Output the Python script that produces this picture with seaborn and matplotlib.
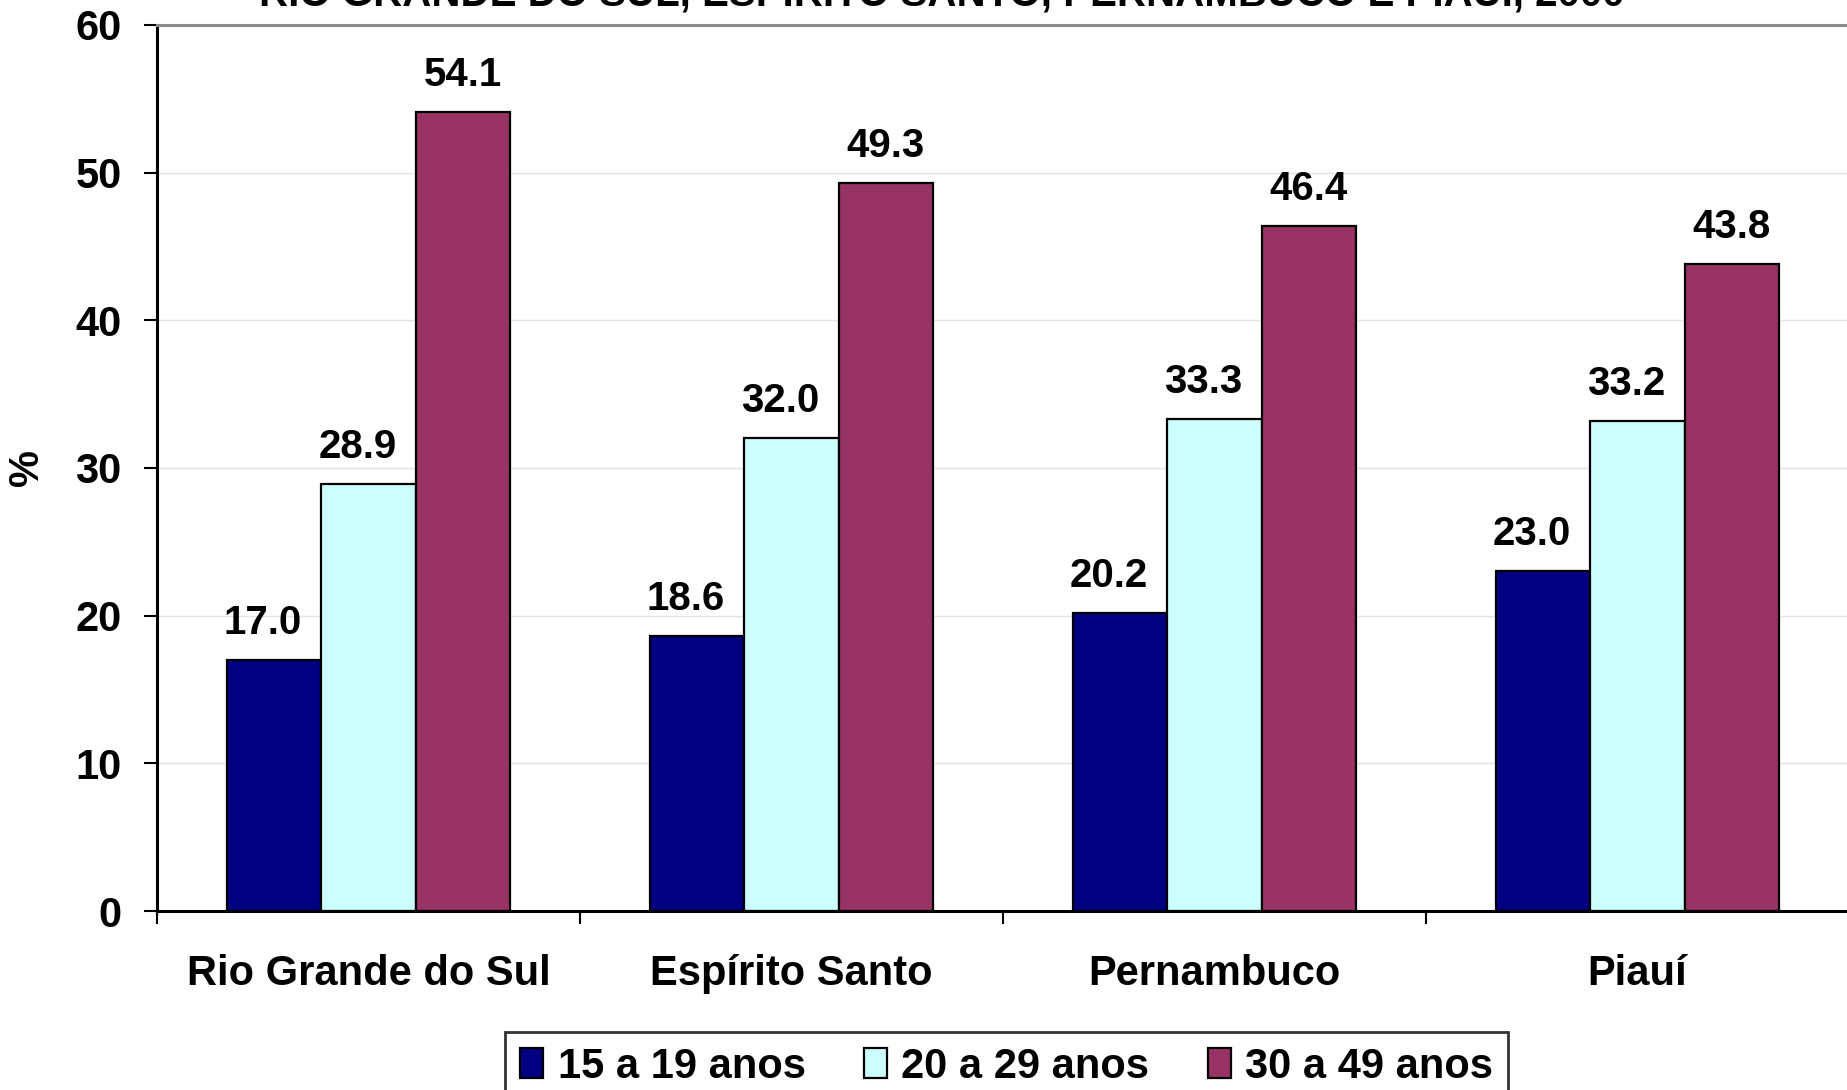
import pandas as pd
import numpy as np
import matplotlib
matplotlib.use("Agg")
import matplotlib.pyplot as plt
import seaborn as sns

# dados do gráfico
estados = ["Rio Grande do Sul", "Espírito Santo", "Pernambuco", "Piauí"]
faixas = ["15 a 19 anos", "20 a 29 anos", "30 a 49 anos"]
v_15_19 = [17.0, 18.6, 20.2, 23.0]
v_20_29 = [28.9, 32.0, 33.3, 33.2]
v_30_49 = [54.1, 49.3, 46.4, 43.8]
cores = ["#000080", "#CCFFFF", "#993366"]
titulo = "RIO GRANDE DO SUL, ESPÍRITO SANTO, PERNAMBUCO E PIAUÍ, 2000"

df = pd.DataFrame({
    "estado": estados * 3,
    "faixa": [faixas[0]] * 4 + [faixas[1]] * 4 + [faixas[2]] * 4,
    "valor": v_15_19 + v_20_29 + v_30_49,
})

sns.set_theme(style="white")
plt.rcParams["font.family"] = ["Liberation Sans", "DejaVu Sans"]
plt.rcParams["font.weight"] = "bold"
plt.rcParams["text.color"] = "black"
plt.rcParams["xtick.color"] = "black"
plt.rcParams["ytick.color"] = "black"
plt.rcParams["axes.labelcolor"] = "black"

FS = 30

fig = plt.figure(figsize=(18.47, 10.9), dpi=100)
ax = fig.add_axes([0.085, 0.1642, 0.916, 0.813])

sns.barplot(data=df, x="estado", y="valor", hue="faixa", order=estados,
            hue_order=faixas, palette=cores, width=0.67, gap=0,
            edgecolor="black", linewidth=1.6, saturation=1, ax=ax)

# rótulos dos valores
offsets = [-8, -8, 0]
for cont, dx in zip(ax.containers, offsets):
    for bar in cont:
        h = bar.get_height()
        ax.annotate(f"{h:.1f}", (bar.get_x() + bar.get_width() / 2, h),
                    xytext=(dx, 13), textcoords="offset points",
                    ha="center", va="bottom", fontsize=FS - 1,
                    fontweight="bold", color="black")

ax.set_xlim(-0.5, 3.5)
ax.set_ylim(0, 60)
ax.set_yticks(np.arange(0, 61, 10))
ax.tick_params(axis="y", which="major", direction="out", length=9.5, width=1.5,
               pad=16, labelsize=FS, left=True)
for t in ax.get_yticklabels():
    t.set_fontweight("bold")

# ticks entre grupos, rótulos no centro
ax.set_xticks(np.arange(-0.5, 4, 1.0))
ax.set_xticklabels([])
ax.set_xticks(np.arange(4), minor=True)
ax.set_xticklabels(estados, minor=True, fontsize=FS, fontweight="bold")
ax.tick_params(axis="x", which="major", direction="out", length=9.5, width=1.5,
               bottom=True)
ax.tick_params(axis="x", which="minor", length=0, pad=31)

ax.set_xlabel("")
ax.set_ylabel("%", fontsize=FS, fontweight="bold", va="center")
ax.yaxis.set_label_coords(-0.0768, 0.5)

ax.yaxis.grid(True, color="#e4e4e4", linewidth=1)
ax.set_axisbelow(True)
for side in ["left", "bottom"]:
    ax.spines[side].set_color("black")
    ax.spines[side].set_linewidth(2.2)
ax.spines["top"].set_color("#8c8c8c")
ax.spines["top"].set_linewidth(2.2)
ax.spines["right"].set_visible(False)

ax.legend_.remove()
handles, labels = ax.get_legend_handles_labels()
leg = fig.legend(handles, labels, loc="upper center",
                 bbox_to_anchor=(0.545, 1 - 1032 / 1090), ncol=3,
                 fontsize=FS, frameon=True, fancybox=False, edgecolor="black",
                 handlelength=0.55, handleheight=0.7, handletextpad=0.35,
                 columnspacing=1.4, borderpad=0.35, borderaxespad=0)
leg.get_frame().set_linewidth(2)
for t in leg.get_texts():
    t.set_fontweight("bold")

# título cortado no topo
fig.text(0.51, 1 - 6 / 1090, titulo, ha="center", va="baseline",
         fontsize=FS - 1, fontweight="bold")

fig.savefig("out.png", dpi=100)
